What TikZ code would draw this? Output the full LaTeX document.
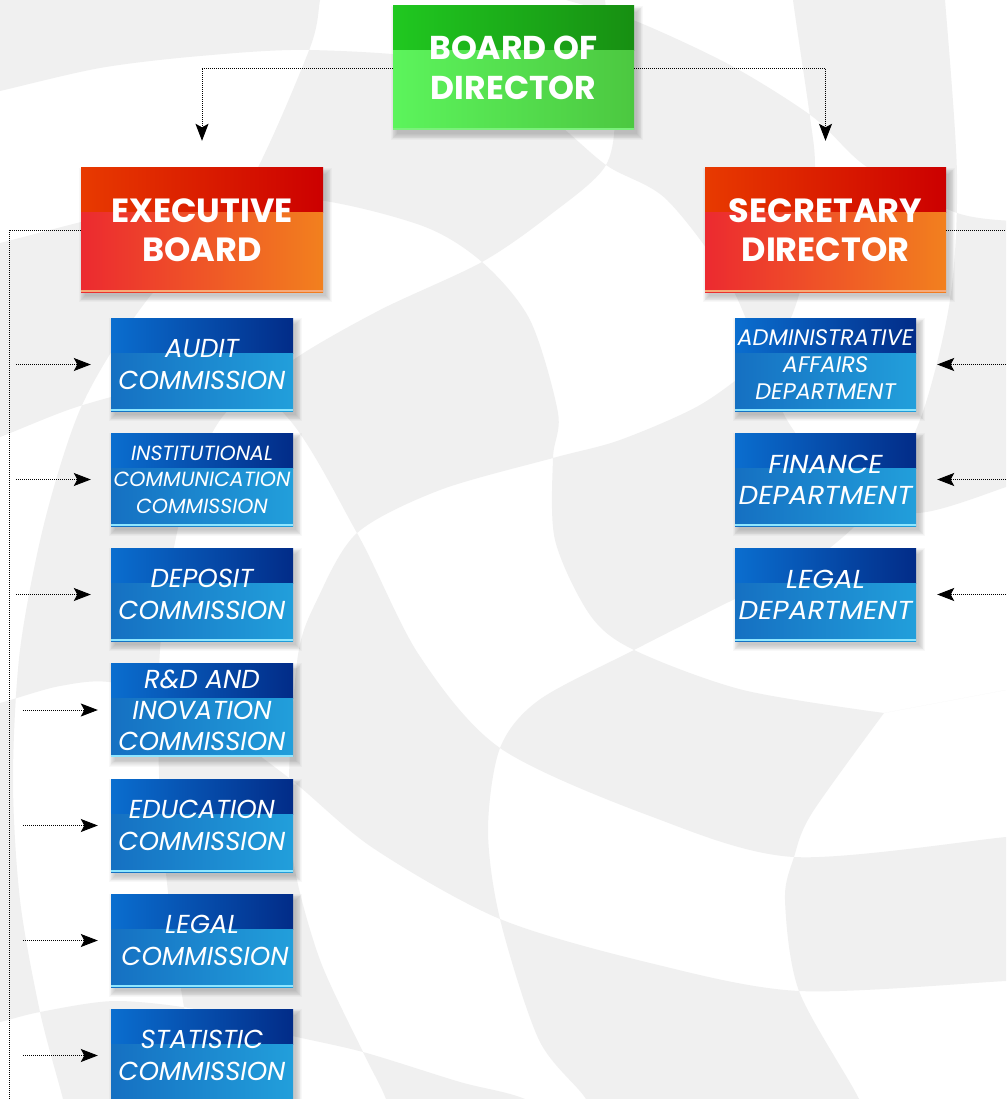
\documentclass[tikz,border=0pt]{standalone}
\usepackage{fontspec}
\setmainfont{Poppins}
\usetikzlibrary{arrows.meta,calc}
\pgfdeclarelayer{bglayer}
\pgfdeclarelayer{shadowlayer}
\pgfsetlayers{bglayer,shadowlayer,main}
\definecolor{bgc}{RGB}{240,240,240}
\definecolor{bTL}{RGB}{10,110,207}
\definecolor{bTR}{RGB}{2,44,136}
\definecolor{bBL}{RGB}{21,112,194}
\definecolor{bBR}{RGB}{34,159,219}
\definecolor{bLine}{RGB}{142,230,255}
\definecolor{rTL}{RGB}{232,58,0}
\definecolor{rTR}{RGB}{204,0,0}
\definecolor{rBL}{RGB}{236,42,48}
\definecolor{rBR}{RGB}{242,128,30}
\definecolor{rLine}{RGB}{247,170,120}
\definecolor{gTL}{RGB}{32,200,32}
\definecolor{gTR}{RGB}{23,143,18}
\definecolor{gBL}{RGB}{92,244,92}
\definecolor{gBR}{RGB}{76,200,64}
\definecolor{gLine}{RGB}{123,240,123}
\tikzset{
  twotone/.style n args={6}{
    path picture={
      \coordinate (nw) at (path picture bounding box.north west);
      \coordinate (se) at (path picture bounding box.south east);
      \coordinate (mid) at ($(nw)!#5!(se)$);
      \fill[left color=#1,right color=#2] (nw) rectangle (mid -| se);
      \fill[left color=#3,right color=#4] (mid -| nw) rectangle (se);
      \fill[#6] ($(se)+(0pt,1.6pt)$) rectangle (se -| nw);
    }},
  boxbase/.style={inner sep=0pt, text=white, align=center},
  bluebox/.style={boxbase, fill=bBR, minimum width=182pt, minimum height=93pt,
    twotone={bTL}{bTR}{bBL}{bBR}{0.38}{bLine},
    font=\fontsize{26}{31.5}\selectfont\itshape},
  deptbox/.style={bluebox, minimum width=181pt,
    font=\fontsize{26}{31}\selectfont\itshape\addfontfeature{FakeStretch=1.07}},
  redbox/.style={boxbase, fill=rBR, minimum width=242pt, minimum height=124pt,
    twotone={rTL}{rTR}{rBL}{rBR}{0.36}{rLine},
    font=\fontsize{33.5}{39.5}\selectfont\bfseries},
  greenbox/.style={boxbase, fill=gBR, minimum width=241pt, minimum height=124pt,
    twotone={gTL}{gTR}{gBL}{gBR}{0.36}{gLine},
    font=\fontsize{33}{40}\selectfont\bfseries},
  conn/.style={line width=0.9pt, black, dash pattern=on 1pt off 1pt},
  tip/.style={-{Stealth[length=17pt,width=13pt,inset=3.5pt]}},
}
\newcommand\boxshadow[1]{%
  \begin{pgfonlayer}{shadowlayer}
  \foreach \k in {0,...,7}{
    \fill[black, opacity=0.026] ($(#1.north west)+(4-\k*0.85, 6-\k*0.85)$) rectangle ($(#1.south east)+(3+\k*0.85, 4+\k*0.85)$);
  }
  \end{pgfonlayer}}
\begin{document}
\begin{tikzpicture}[x=1pt,y=-1pt]
\useasboundingbox (0,0) rectangle (1006,1099);
\begin{pgfonlayer}{bglayer}
\fill[white] (0,0) rectangle (1006,1099);
\begin{scope}
\clip (0,0) rectangle (1006,1099);
\fill[bgc, even odd rule]
  (-40,-40) rectangle (1046,1139)
  % H0
  (1046,-40) -- (520,-40) -- plot[smooth] coordinates {(520,-20) (560,-2) (633,20) (730,65) (813,117) (867,167) (957,213) (1026,222) (1046,224)} -- cycle
  % H1
  (-40,-40) -- plot[smooth] coordinates {(-40,100) (0,91) (100,68) (200,56) (310,50) (450,62) (540,110) (606,165) (667,200) (733,290) (787,420) (850,490) (917,513) (1006,487) (1046,470)} -- (1046,-40) -- cycle
  % H2
  (-40,-40) -- plot[smooth] coordinates {(-40,252) (0,243) (150,207) (300,198) (420,225) (482,262) (530,320) (558,413) (553,458) (555,540) (590,615) (634,650) (743,690) (884,713)} -- (1006,690) -- (1046,680) -- (1046,-40) -- cycle
  % H3
  (-40,-40) -- plot[smooth] coordinates {(-40,450) (0,437) (83,405) (180,385) (280,410) (357,533) (419,655) (500,748) (650,816) (794,857) (1006,837) (1046,833)} -- (1046,-40) -- cycle
  % H4
  (-40,-40) -- plot[smooth] coordinates {(-40,712) (0,703) (60,686) (115,683) (200,715) (289,778) (373,848) (500,919) (650,963) (799,991) (1006,981) (1046,979)} -- (1046,-40) -- cycle
  % H5
  (-40,-40) -- plot[smooth] coordinates {(-40,1030) (0,1022) (40,1012) (115,1001) (200,1010) (280,1033) (363,1052) (460,1082) (525,1099) (600,1139)} -- (1046,1139) -- (1046,-40) -- cycle
  % V1
  (-40,-40) -- plot[smooth] coordinates {(325,-40) (320,0) (308,53) (240,200) (147,300) (83,403) (45,520) (20,650) (13,780) (20,900) (40,1012) (63,1099) (72,1139)} -- (-40,1139) -- cycle
  % V2
  (-40,-40) -- plot[smooth] coordinates {(600,-40) (605,0) (615,100) (606,165) (550,215) (482,262) (380,310) (293,360) (220,420) (180,520) (160,650) (160,800) (175,950) (200,1099) (205,1139)} -- (-40,1139) -- cycle
  % V3
  (-40,-40) -- plot[smooth] coordinates {(790,-40) (793,0) (810,117) (815,167) (810,250) (790,320) (760,360) (700,405) (620,440) (553,458) (440,490) (357,533) (317,600) (298,655) (289,778) (294,865) (320,960) (363,1052) (386,1099) (395,1139)} -- (-40,1139) -- cycle
  % V4
  (-40,-40) -- plot[smooth] coordinates {(940,-40) (945,0) (957,175) (950,300) (920,420) (870,510) (800,570) (743,595) (634,650) (539,700) (500,748) (488,830) (500,919) (539,1040) (586,1099) (600,1139)} -- (-40,1139) -- cycle
  % V5
  (-40,-40) -- (1046,-40) -- (1046,680) -- (1006,690) -- plot[smooth] coordinates {(884,713) (812,813) (794,857) (785,900) (799,991) (859,1099) (870,1139)} -- (-40,1139) -- cycle;
\end{scope}
\end{pgfonlayer}

% top level
\node[greenbox] (board) at (513.5,68) {BOARD OF\\DIRECTOR};
\node[redbox] (exec) at (202,230) {EXECUTIVE\\BOARD};
\node[redbox, minimum width=241pt] (sec) at (825.5,230) {SECRETARY\\DIRECTOR};

% left column
\node[bluebox] (audit) at (202,364.5) {AUDIT\\COMMISSION};
\node[bluebox, font=\fontsize{20.5}{26.5}\selectfont\itshape] (inst) at (202,479.5) {INSTITUTIONAL\\COMMUNICATION\\COMMISSION};
\node[bluebox] (depo) at (202,594.5) {DEPOSIT\\COMMISSION};
\node[bluebox, font=\fontsize{26}{31}\selectfont\itshape] (rnd) at (202,710) {R\&D AND\\INOVATION\\COMMISSION};
\node[bluebox] (edu) at (202,825.5) {EDUCATION\\COMMISSION};
\node[bluebox] (lcom) at (202,940.5) {LEGAL\\\hspace*{6pt}COMMISSION};
\node[bluebox] (stat) at (202,1055.5) {STATISTIC\\COMMISSION};

% right column
\node[deptbox, font=\fontsize{22.5}{27}\selectfont\itshape] (admin) at (825.5,364.5) {ADMINISTRATIVE\\AFFAIRS\\DEPARTMENT};
\node[deptbox] (fin) at (825.5,479.5) {FINANCE\\DEPARTMENT};
\node[deptbox] (ldep) at (825.5,594.5) {LEGAL\\DEPARTMENT};

% soft shadows
\foreach \n in {board,exec,sec,audit,inst,depo,rnd,edu,lcom,stat,admin,fin,ldep}{\boxshadow{\n}}

% coordinates for free ends
\coordinate (lb) at (9,1099);
\coordinate (rb) at (1006,230);
\coordinate (l1) at (16,364.5);
\coordinate (l2) at (16,479.5);
\coordinate (l3) at (16,594.5);
\coordinate (l4) at (23,710);
\coordinate (l5) at (23,825.5);
\coordinate (l6) at (23,940.5);
\coordinate (l7) at (23,1055.5);
\coordinate (r1) at (1006,364.5);
\coordinate (r2) at (1006,479.5);
\coordinate (r3) at (1006,594.5);

% connectors
\draw[conn, tip, shorten >=27pt] (board.west) -| (exec.north);
\draw[conn, tip, shorten >=27pt] (board.east) -| (sec.north);
\draw[conn] (exec.west) -| (lb);
\draw[conn] (sec.east) -- (rb);
\draw[conn, tip, shorten >=20pt] (l1) -- (audit.west);
\draw[conn, tip, shorten >=20pt] (l2) -- (inst.west);
\draw[conn, tip, shorten >=20pt] (l3) -- (depo.west);
\draw[conn, tip, shorten >=13pt] (l4) -- (rnd.west);
\draw[conn, tip, shorten >=13pt] (l5) -- (edu.west);
\draw[conn, tip, shorten >=13pt] (l6) -- (lcom.west);
\draw[conn, tip, shorten >=13pt] (l7) -- (stat.west);
\draw[conn, tip, shorten >=21pt] (r1) -- (admin.east);
\draw[conn, tip, shorten >=21pt] (r2) -- (fin.east);
\draw[conn, tip, shorten >=21pt] (r3) -- (ldep.east);
\end{tikzpicture}
\end{document}
